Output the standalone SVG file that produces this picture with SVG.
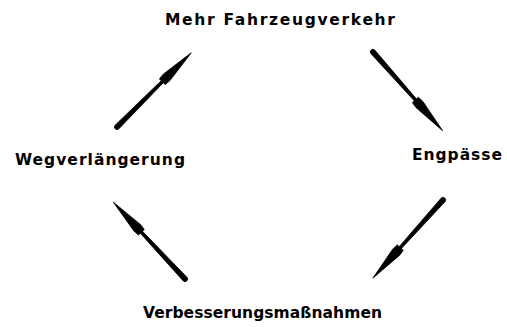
<svg xmlns="http://www.w3.org/2000/svg" xmlns:xlink="http://www.w3.org/1999/xlink" width="507" height="327" viewBox="0 0 507 327">
  <style>
    .lbl { font-family: "DejaVu Sans", "Liberation Sans", sans-serif; font-weight: bold; font-size: 15.5px; fill: #000; }
    .arr { fill: #000; stroke: #000; stroke-width: 0.8; stroke-linejoin: round; }
  </style>
  <defs>
    <g id="arrow">
      <path class="arr" d="M0,-2.6 L65,-1.4 L65,1.4 L0,2.6 A2.6,2.6 0 0 1 0,-2.6 Z"/>
      <path class="arr" d="M64,-4 L70,-4.6 L105,0 L70,4.6 L64,4 Z"/>
    </g>
  </defs>
  <rect width="507" height="327" fill="#fff"/>
  <g id="connectors">
    <use xlink:href="#arrow" href="#arrow" transform="translate(117,127) rotate(-45)"/>
    <use xlink:href="#arrow" href="#arrow" transform="translate(373,52) rotate(48.5)"/>
    <use xlink:href="#arrow" href="#arrow" transform="translate(443,200) rotate(131.9)"/>
    <use xlink:href="#arrow" href="#arrow" transform="translate(185,279) rotate(-133)"/>
  </g>
  <g id="node-mehr-fahrzeugverkehr">
    <text class="lbl" x="165" y="25" textLength="230" lengthAdjust="spacing">Mehr Fahrzeugverkehr</text>
  </g>
  <g id="node-engpaesse">
    <text class="lbl" x="412" y="160" textLength="90" lengthAdjust="spacing">Engpässe</text>
  </g>
  <g id="node-verbesserungsmassnahmen">
    <text class="lbl" x="143" y="318" textLength="239" lengthAdjust="spacing">Verbesserungsmaßnahmen</text>
  </g>
  <g id="node-wegverlaengerung">
    <text class="lbl" x="15" y="165" textLength="170" lengthAdjust="spacing">Wegverlängerung</text>
  </g>
</svg>
